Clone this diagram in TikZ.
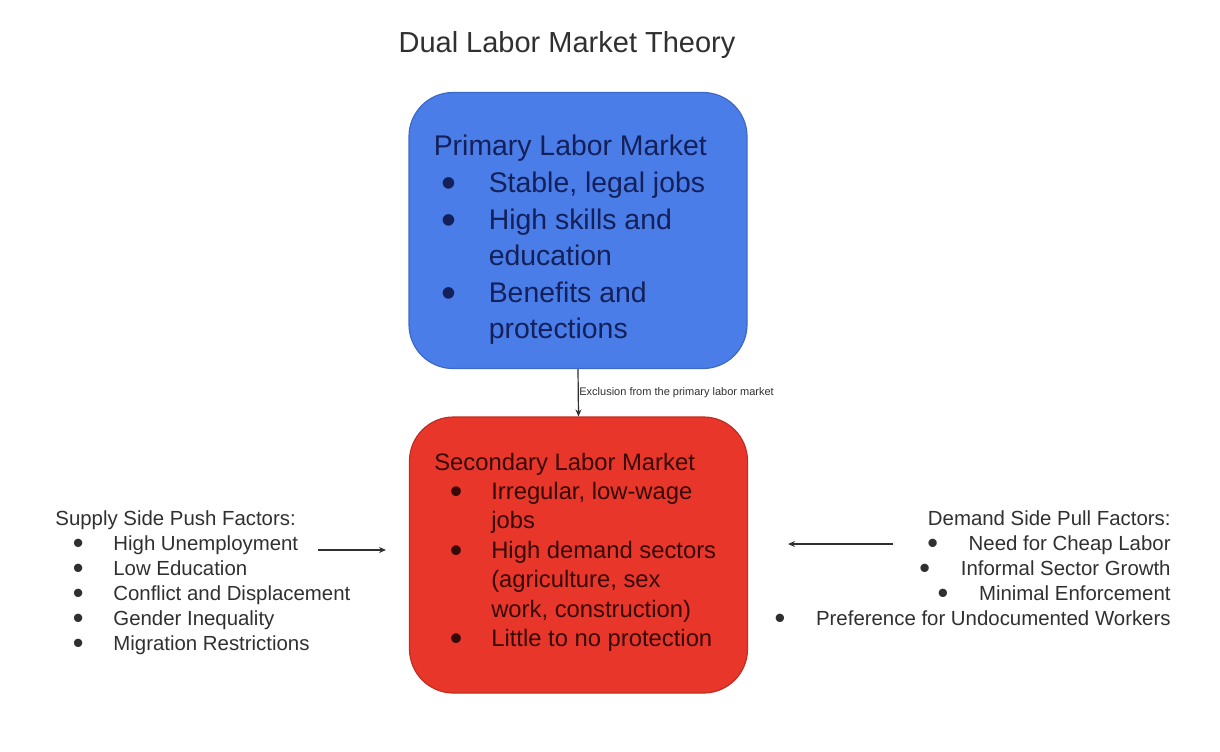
\documentclass[tikz,border=0pt]{standalone}
\usepackage{fontspec}
\setmainfont{Liberation Sans}
\usetikzlibrary{positioning,arrows.meta}

\definecolor{primaryblue}{HTML}{4A7DE8}
\definecolor{primaryedge}{HTML}{3D68C8}
\definecolor{secondaryred}{HTML}{E8372A}
\definecolor{secondaryedge}{HTML}{BE2E22}
\definecolor{navytext}{HTML}{13205A}
\definecolor{maroontext}{HTML}{360806}
\definecolor{labeltext}{HTML}{303030}

% a larger list dot, kept on the same centre line
\newcommand{\bigdot}{\smash{\raisebox{-0.18em}{\scalebox{1.5}{\textbullet}}}}
% bullet in a box: #1 = gap before the dot, #2 = indent of the item text
\newcommand{\dotitem}[2]{\makebox[#2][l]{\hspace*{#1}\hspace*{-0.09em}\bigdot}}

\begin{document}
\begin{tikzpicture}[x=0.5pt, y=-0.5pt,
    market/.style={rectangle, rounded corners=22pt, line width=0.6pt,
                   minimum width=169pt, minimum height=138pt, inner sep=0pt},
    listtext/.style={align=left, inner sep=0pt, anchor=north west},
    factors/.style={inner sep=0pt, text=labeltext,
                    font=\fontsize{10.2pt}{12.5pt}\selectfont},
    flow/.style={-{Stealth[length=3.5pt,width=3pt]}, draw=labeltext, line width=0.6pt},
]
\useasboundingbox (0,0) rectangle (1220,751);

% title
\node[anchor=base, text=labeltext, font=\fontsize{14.5pt}{17pt}\selectfont]
    (title) at (567,52) {Dual Labor Market Theory};

% the two market boxes
\node[market, fill=primaryblue, draw=primaryedge] (primary) at (578,230.5) {};
\node[market, fill=secondaryred, draw=secondaryedge] (secondary) at (578.5,555) {};

\node[listtext, text=navytext, font=\fontsize{14.2pt}{18.3pt}\selectfont]
    (primlist) at ([xshift=12.5pt,yshift=-21.5pt]primary.north west)
    {Primary Labor Market\\
     \dotitem{5pt}{27.5pt}Stable, legal jobs\\
     \dotitem{5pt}{27.5pt}High skills and\\
     \hspace*{27.5pt}education\\
     \dotitem{5pt}{27.5pt}Benefits and\\
     \hspace*{27.5pt}protections};

\node[listtext, text=maroontext, font=\fontsize{11.9pt}{14.7pt}\selectfont]
    (seclist) at ([xshift=12.5pt,yshift=-18pt]secondary.north west)
    {Secondary Labor Market\\
     \dotitem{8.9pt}{28.5pt}Irregular, low-wage\\
     \hspace*{28.5pt}jobs\\
     \dotitem{8.9pt}{28.5pt}High demand sectors\\
     \hspace*{28.5pt}(agriculture, sex\\
     \hspace*{28.5pt}work, construction)\\
     \dotitem{8.9pt}{28.5pt}Little to no protection};

% exclusion link
\draw[flow] (primary.south) -- (secondary.north);
\node[anchor=west, inner sep=0pt, text=labeltext, font=\fontsize{5.5pt}{6.5pt}\selectfont]
    (exclusion) at (579,393) {Exclusion from the primary labor market};

% push and pull factors
\node[factors, listtext] (push) at (55,510)
    {Supply Side Push Factors:\\
     \dotitem{9.7pt}{29pt}High Unemployment\\
     \dotitem{9.7pt}{29pt}Low Education\\
     \dotitem{9.7pt}{29pt}Conflict and Displacement\\
     \dotitem{9.7pt}{29pt}Gender Inequality\\
     \dotitem{9.7pt}{29pt}Migration Restrictions};

\node[factors, align=right, anchor=north east] (pull) at (1171,510)
    {Demand Side Pull Factors:\\
     \makebox[20.7pt][l]{\bigdot}Need for Cheap Labor\\
     \makebox[20.7pt][l]{\bigdot}Informal Sector Growth\\
     \makebox[20.7pt][l]{\bigdot}Minimal Enforcement\\
     \makebox[20.7pt][l]{\bigdot}Preference for Undocumented Workers};

\coordinate (pushtail) at (318,550);
\coordinate (pushhead) at (386,550);
\coordinate (pulltail) at (893,544);
\coordinate (pullhead) at (788,544);
\draw[flow] (pushtail) -- (pushhead);
\draw[flow] (pulltail) -- (pullhead);
\end{tikzpicture}
\end{document}
